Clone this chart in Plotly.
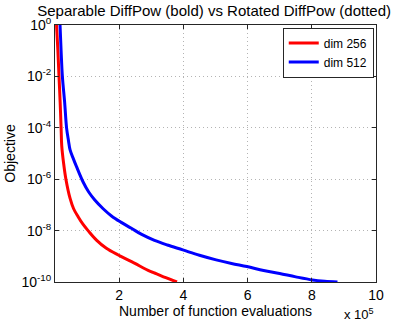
import numpy as np
import plotly.graph_objects as go

# evaluations in units of 1e5, objective as log10 values
evals_256 = [0.04, 0.09, 0.125, 0.16, 0.19, 0.21, 0.27, 0.34, 0.47, 0.58, 0.72, 0.87, 1.03, 1.30, 1.60,
             1.97, 2.40, 2.95, 3.10, 3.45, 3.80]
logobj_256 = [0.2, -1.0, -2.0, -3.0, -4.0, -4.7, -5.4, -6.0, -6.75, -7.15, -7.46, -7.75, -8.0, -8.38, -8.69,
              -8.95, -9.22, -9.58, -9.65, -9.83, -10.0]

evals_512 = [0.15, 0.19, 0.23, 0.30, 0.36, 0.42, 0.47, 0.57, 0.67, 0.88, 1.05, 1.24, 1.50, 1.76, 2.05, 2.38,
             2.70, 3.10, 3.50, 3.98, 4.50, 5.02, 5.50, 5.98, 6.50, 7.00, 7.50, 8.02, 8.40, 8.80]
logobj_512 = [0.2, -1.0, -2.0, -3.0, -4.0, -4.5, -4.86, -5.2, -5.51, -6.12, -6.5, -6.81, -7.15, -7.43, -7.67, -7.91,
              -8.15, -8.38, -8.56, -8.75, -8.96, -9.14, -9.28, -9.40, -9.55, -9.67, -9.80, -9.92, -9.97, -10.0]

ytick_vals = [0, -2, -4, -6, -8, -10]
xtick_vals = [2, 4, 6, 8, 10]

fig = go.Figure()
fig.add_trace(go.Scatter(x=evals_256, y=np.power(10.0, logobj_256), mode='lines',
                         line=dict(color='#ff0000', width=3, shape='spline', smoothing=1.0), name='dim 256'))
fig.add_trace(go.Scatter(x=evals_512, y=np.power(10.0, logobj_512), mode='lines',
                         line=dict(color='#0000ff', width=3, shape='spline', smoothing=1.0), name='dim 512'))

axis_style = dict(showline=True, linecolor='#262626', linewidth=1, mirror='ticks',
                  ticks='inside', ticklen=4, tickcolor='#262626',
                  showgrid=True, gridcolor='#b4b4b4', griddash='1px,3px', gridwidth=1,
                  zeroline=False, automargin=False, tickfont=dict(size=14, color='black'))

fig.update_xaxes(range=[0, 10], tickvals=xtick_vals, ticktext=[str(v) for v in xtick_vals],
                 title=dict(text='Number of function evaluations', font=dict(size=14, color='black'), standoff=0),
                 **axis_style)
fig.update_yaxes(type='log', range=[-10, 0], tickvals=[10.0 ** v for v in ytick_vals],
                 ticktext=['10<sup>%d</sup>' % v for v in ytick_vals],
                 title=dict(text='Objective', font=dict(size=14, color='black'), standoff=2),
                 **axis_style)

fig.update_layout(
    width=415, height=321,
    margin=dict(l=55, r=39, t=25, b=39),
    paper_bgcolor='white', plot_bgcolor='white',
    font=dict(family='Liberation Sans, Arial, sans-serif', size=14, color='black'),
    title=dict(text='Separable DiffPow (bold) vs Rotated DiffPow (dotted)', x=0.516, xanchor='center',
               y=0.968, yanchor='middle', font=dict(size=15), automargin=False),
    legend=dict(x=0.993, xanchor='right', y=0.99, yanchor='top', bgcolor='white',
                bordercolor='#262626', borderwidth=1, font=dict(size=12),
                tracegroupgap=0, itemwidth=30),
    showlegend=True,
)

fig.add_annotation(text='x 10<sup>5</sup>', xref='paper', yref='paper', x=1.0, y=-0.085,
                   xanchor='right', yanchor='top', showarrow=False, font=dict(size=13))

# page body has a default margin; drop it so the figure sits at the window corner
fig.write_html("out.html", config={'displayModeBar': False},
               post_script="document.body.style.margin='0';")
